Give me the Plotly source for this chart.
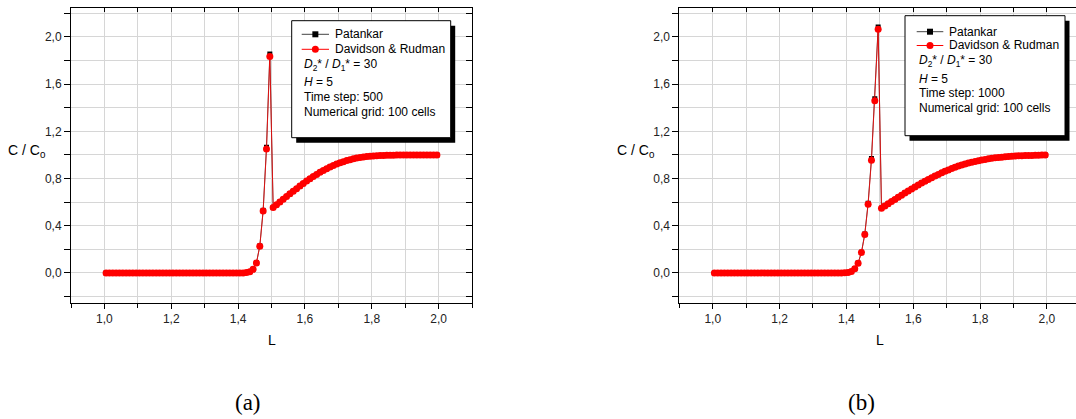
import plotly.graph_objects as go

W, H = 1076, 419

# ---------------- data ----------------
L = [1.005, 1.015, 1.025, 1.035, 1.045, 1.055, 1.065, 1.075, 1.085, 1.095,
     1.105, 1.115, 1.125, 1.135, 1.145, 1.155, 1.165, 1.175, 1.185, 1.195,
     1.205, 1.215, 1.225, 1.235, 1.245, 1.255, 1.265, 1.275, 1.285, 1.295,
     1.305, 1.315, 1.325, 1.335, 1.345, 1.355, 1.365, 1.375, 1.385, 1.395,
     1.405, 1.415, 1.425, 1.435, 1.445, 1.455, 1.465, 1.475, 1.485, 1.495,
     1.505, 1.515, 1.525, 1.535, 1.545, 1.555, 1.565, 1.575, 1.585, 1.595,
     1.605, 1.615, 1.625, 1.635, 1.645, 1.655, 1.665, 1.675, 1.685, 1.695,
     1.705, 1.715, 1.725, 1.735, 1.745, 1.755, 1.765, 1.775, 1.785, 1.795,
     1.805, 1.815, 1.825, 1.835, 1.845, 1.855, 1.865, 1.875, 1.885, 1.895,
     1.905, 1.915, 1.925, 1.935, 1.945, 1.955, 1.965, 1.975, 1.985, 1.995]

# panel (a): time step 500
tail_a = [0.555, 0.578, 0.601, 0.624, 0.647, 0.670, 0.692, 0.714, 0.736, 0.757,
          0.778, 0.798, 0.817, 0.835, 0.852, 0.868, 0.883, 0.897, 0.910, 0.922,
          0.933, 0.943, 0.952, 0.960, 0.967, 0.973, 0.978, 0.982, 0.986, 0.989,
          0.991, 0.993, 0.995, 0.996, 0.997, 0.998, 0.998, 0.999, 0.999, 0.999,
          1.0, 1.0, 1.0, 1.0, 1.0, 1.0, 1.0, 1.0, 1.0, 1.0]
dr_a = [0.0] * 42 + [0.003, 0.010, 0.030, 0.085, 0.226, 0.525, 1.050, 1.835] + tail_a
pat_a = [0.0] * 42 + [0.003, 0.010, 0.031, 0.087, 0.229, 0.530, 1.065, 1.855] + tail_a

# panel (b): time step 1000
tail_b = [0.548, 0.567, 0.586, 0.605, 0.623, 0.641, 0.659, 0.677, 0.695, 0.712,
          0.729, 0.745, 0.761, 0.777, 0.792, 0.807, 0.821, 0.835, 0.848, 0.861,
          0.873, 0.884, 0.895, 0.905, 0.914, 0.923, 0.931, 0.938, 0.945, 0.951,
          0.957, 0.962, 0.967, 0.971, 0.975, 0.978, 0.981, 0.984, 0.986, 0.988,
          0.990, 0.992, 0.993, 0.994, 0.995, 0.996, 0.997, 0.998, 0.999, 1.0]
dr_b = [0.0] * 39 + [0.001, 0.004, 0.013, 0.035, 0.082, 0.172, 0.325, 0.582,
                     0.955, 1.458, 2.065] + tail_b
pat_b = [0.0] * 39 + [0.001, 0.004, 0.013, 0.036, 0.084, 0.175, 0.330, 0.590,
                      0.970, 1.475, 2.085] + tail_b

TICK_FONT = dict(family="Liberation Sans, Arial", size=12, color="#222")
RED = "#ff0000"

fig = go.Figure()

for xa, ya, pat, dr in (("x", "y", pat_a, dr_a), ("x2", "y2", pat_b, dr_b)):
    fig.add_trace(go.Scatter(x=L, y=pat, xaxis=xa, yaxis=ya, mode="lines+markers",
                             line=dict(color="#222", width=0.8),
                             marker=dict(symbol="square", size=5, color="black"),
                             showlegend=False))
    fig.add_trace(go.Scatter(x=L, y=dr, xaxis=xa, yaxis=ya, mode="lines+markers",
                             line=dict(color=RED, width=0.8),
                             marker=dict(symbol="circle", size=7, color=RED),
                             showlegend=False))

# empty traces to host the mirrored inward-tick axes
fig.add_trace(go.Scatter(x=[], y=[], xaxis="x3", yaxis="y", showlegend=False))
fig.add_trace(go.Scatter(x=[], y=[], xaxis="x", yaxis="y3", showlegend=False))
fig.add_trace(go.Scatter(x=[], y=[], xaxis="x4", yaxis="y2", showlegend=False))


def px(x):
    return x / W


def py(y):
    return 1 - y / H


XR_A = [0.9, 2.1]
XR_B = [0.9, 0.9 + (W - 679.3) / 334.2]
YR = [-0.255, 2.245]
ydom = [py(303), py(8)]
GRID = "#d6d6d6"


def xaxis(domain, rng, anchor):
    return dict(domain=domain, range=rng, anchor=anchor, tickmode="linear", tick0=0,
                dtick=0.2, tickformat=".1f", ticks="outside", ticklen=5, tickwidth=1,
                tickcolor="black", showline=True, linecolor="black", linewidth=1,
                mirror=True, showgrid=True, gridcolor=GRID, gridwidth=1,
                zeroline=False, tickfont=TICK_FONT,
                minor=dict(dtick=0.1, tick0=0, showgrid=True, gridcolor=GRID,
                           ticks="outside", ticklen=4, tickcolor="black"))


def yaxis(anchor):
    return dict(domain=ydom, range=YR, anchor=anchor, tickmode="linear", tick0=0,
                dtick=0.4, tickformat=".1f", ticks="outside", ticklen=6, tickwidth=1,
                tickcolor="black", showline=True, linecolor="black", linewidth=1,
                mirror=True, showgrid=True, gridcolor=GRID, gridwidth=1,
                zeroline=False, tickfont=TICK_FONT,
                minor=dict(dtick=0.2, tick0=0, showgrid=True, gridcolor=GRID,
                           ticks="outside", ticklen=6, tickcolor="black"))


fig.update_layout(
    width=W, height=H, margin=dict(l=0, r=0, t=0, b=0, pad=0),
    paper_bgcolor="white", plot_bgcolor="white", separators=",.",
    xaxis=xaxis([px(71), px(472)], XR_A, "y"),
    yaxis=yaxis("x"),
    xaxis2=xaxis([px(679.3), 1.0], XR_B, "y2"),
    yaxis2=yaxis("x2"),
    xaxis3=dict(overlaying="x", side="top", anchor="y", range=XR_A, tickmode="linear",
                tick0=0, dtick=0.1, ticks="inside", ticklen=4, tickcolor="black",
                showticklabels=False, showgrid=False, showline=False, zeroline=False),
    yaxis3=dict(overlaying="y", side="right", anchor="x", range=YR, tickmode="linear",
                tick0=0, dtick=0.2, ticks="inside", ticklen=6, tickcolor="black",
                showticklabels=False, showgrid=False, showline=False, zeroline=False),
    xaxis4=dict(overlaying="x2", side="top", anchor="y2", range=XR_B, tickmode="linear",
                tick0=0, dtick=0.1, ticks="inside", ticklen=4, tickcolor="black",
                showticklabels=False, showgrid=False, showline=False, zeroline=False),
)

shapes = []
annots = []
TXT = dict(family="Liberation Sans, Arial", size=12, color="black")


def legend_box(x0, y0, x1, y1, sym_x0, sym_x1, text_x, row_y, lines):
    # shadow
    shapes.append(dict(type="rect", xref="paper", yref="paper",
                       x0=px(x0 + 4.5), x1=px(x1 + 4.5), y0=py(y1 + 5), y1=py(y0 + 5),
                       fillcolor="black", line=dict(width=0)))
    shapes.append(dict(type="rect", xref="paper", yref="paper",
                       x0=px(x0), x1=px(x1), y0=py(y1), y1=py(y0),
                       fillcolor="white", line=dict(color="black", width=1)))
    cx = (sym_x0 + sym_x1) / 2
    # Patankar glyph
    shapes.append(dict(type="line", xref="paper", yref="paper", x0=px(sym_x0), x1=px(sym_x1),
                       y0=py(row_y[0]), y1=py(row_y[0]), line=dict(color="#444", width=1)))
    shapes.append(dict(type="rect", xref="paper", yref="paper", x0=px(cx - 3), x1=px(cx + 3),
                       y0=py(row_y[0] + 3), y1=py(row_y[0] - 3), fillcolor="black",
                       line=dict(width=0)))
    # Davidson & Rudman glyph
    shapes.append(dict(type="line", xref="paper", yref="paper", x0=px(sym_x0), x1=px(sym_x1),
                       y0=py(row_y[1]), y1=py(row_y[1]), line=dict(color=RED, width=1)))
    shapes.append(dict(type="circle", xref="paper", yref="paper", x0=px(cx - 3.5),
                       x1=px(cx + 3.5), y0=py(row_y[1] + 3.5), y1=py(row_y[1] - 3.5),
                       fillcolor=RED, line=dict(width=0)))
    for i, t in enumerate(lines):
        xx = text_x if i < 2 else sym_x0
        annots.append(dict(xref="paper", yref="paper", x=px(xx), y=py(row_y[i]),
                           xanchor="left", yanchor="middle", text=t, showarrow=False,
                           font=TXT))


lines_common = ["Patankar", "Davidson &amp; Rudman",
                "<i>D</i><sub>2</sub>* / <i>D</i><sub>1</sub>* = 30", "<i>H</i> = 5"]
legend_box(291.7, 20.7, 450.7, 137.7, 301.7, 329, 332.7,
           [34.3, 49.3, 64.5, 82.3, 97.0, 111.7],
           lines_common + ["Time step: 500", "Numerical grid: 100 cells"])
legend_box(905, 15.7, 1065, 135.7, 916.7, 943.3, 946.7,
           [31.7, 45.5, 60.7, 79.3, 93.3, 108.3],
           lines_common + ["Time step: 1000", "Numerical grid: 100 cells"])

AX = dict(family="Liberation Sans, Arial", size=14, color="black")
for x, ytitle_x in ((272, 27), (880, 636)):
    annots.append(dict(xref="paper", yref="paper", x=px(x), y=py(340), text="L",
                       showarrow=False, xanchor="center", yanchor="middle", font=AX))
    annots.append(dict(xref="paper", yref="paper", x=px(ytitle_x), y=py(151),
                       text="C / C<sub>0</sub>", showarrow=False, xanchor="center",
                       yanchor="middle", font=AX))

CAP = dict(family="Liberation Serif, DejaVu Serif", size=23, color="black")
annots.append(dict(xref="paper", yref="paper", x=px(248), y=py(402), text="(a)",
                   showarrow=False, xanchor="center", yanchor="middle", font=CAP))
annots.append(dict(xref="paper", yref="paper", x=px(861), y=py(402), text="(b)",
                   showarrow=False, xanchor="center", yanchor="middle", font=CAP))

fig.update_layout(shapes=shapes, annotations=annots)
fig.write_html("out.html")
